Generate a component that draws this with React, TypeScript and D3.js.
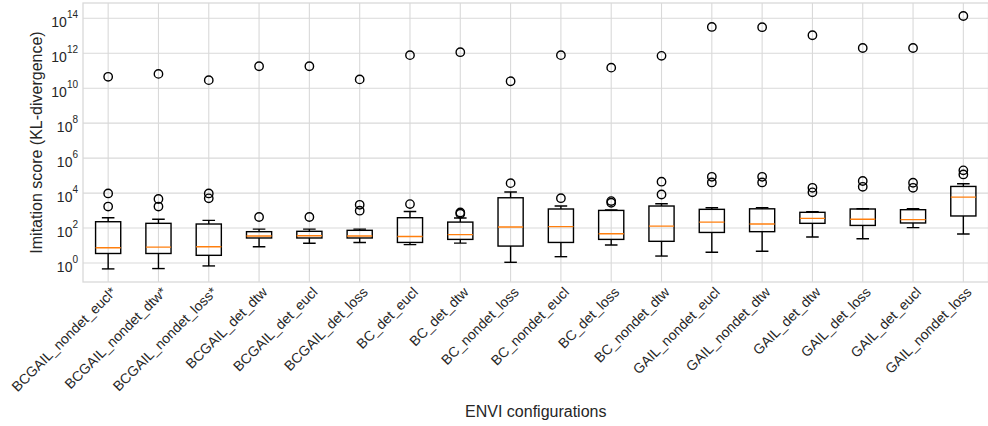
import React from 'react';
import * as d3 from 'd3';

const categories = [
  'BCGAIL_nondet_eucl*', 'BCGAIL_nondet_dtw*', 'BCGAIL_nondet_loss*',
  'BCGAIL_det_dtw', 'BCGAIL_det_eucl', 'BCGAIL_det_loss',
  'BC_det_eucl', 'BC_det_dtw', 'BC_nondet_loss', 'BC_nondet_eucl',
  'BC_det_loss', 'BC_nondet_dtw', 'GAIL_nondet_eucl', 'GAIL_nondet_dtw',
  'GAIL_det_dtw', 'GAIL_det_loss', 'GAIL_det_eucl', 'GAIL_nondet_loss',
];

const whiskerLow = [0.46, 0.48, 0.68, 8.5, 13.5, 15, 11.2, 13.8, 1.1, 2.3, 10.7, 2.5, 4.1, 4.7, 31, 24.5, 105, 46];
const q1 = [3.5, 3.5, 2.75, 27, 27, 27, 15, 22.4, 9.3, 15, 22.4, 17.4, 56, 62, 186, 141, 195, 490];
const medians = [7.4, 8.1, 8.5, 35, 36, 35, 33, 42, 115, 120, 47, 129, 219, 170, 355, 316, 302, 5900];
const q3 = [230, 186, 170, 62, 65, 74, 390, 219, 5400, 1230, 1020, 1820, 1175, 1260, 794, 1230, 1120, 24000];
const whiskerHigh = [390, 316, 275, 87, 87, 87, 890, 372, 11500, 1820, 1080, 2450, 1445, 1480, 850, 1260, 1260, 34000];
const outliers = [
  [1700, 9500, 4.5e10],
  [1700, 4600, 6.6e10],
  [5000, 9500, 2.9e10],
  [427, 1.8e11],
  [427, 1.8e11],
  [980, 2140, 3.2e10],
  [2340, 7.8e11],
  [660, 776, 1.15e12],
  [37000, 2.5e10],
  [5100, 7.8e11],
  [2800, 3470, 1.5e11],
  [8300, 44700, 7.1e11],
  [40700, 85000, 3.2e13],
  [40700, 85000, 3.1e13],
  [11000, 20000, 1.07e13],
  [22900, 49000, 2.0e12],
  [20000, 38900, 2.0e12],
  [117000, 200000, 1.35e14],
];
const yTickExps = [0, 2, 4, 6, 8, 10, 12, 14];

const W = 988;
const H = 426;
const left = 83;
const right = 988.5;
const top = 3;
const bottom = 282;
const textColor = '#262626';
const gridColor = '#d9d9d9';
const font = '"Liberation Sans", Arial, sans-serif';

export default function App() {
  const x = d3.scaleLinear().domain([0.5, categories.length + 0.5]).range([left, right]);
  const y = d3.scaleLog().domain([Math.pow(10, -1.087), Math.pow(10, 14.875)]).range([bottom, top]);
  const step = x(2) - x(1);
  const boxW = step * 0.5;
  const capW = boxW * 0.5;

  return (
    <svg width={W} height={H} style={{ position: 'absolute', left: 0, top: 0 }} fontFamily={font}>
      <rect width={W} height={H} fill="#fff" />
      <defs>
        <clipPath id="plot">
          <rect x={left} y={top} width={right - left} height={bottom - top} />
        </clipPath>
      </defs>
      {/* grid */}
      {yTickExps.map(e => (
        <line key={'gy' + e} x1={left} x2={right} y1={y(Math.pow(10, e))} y2={y(Math.pow(10, e))} stroke={gridColor} strokeWidth={1.1} />
      ))}
      {categories.map((c, i) => (
        <line key={'gx' + i} x1={x(i + 1)} x2={x(i + 1)} y1={top} y2={bottom} stroke={gridColor} strokeWidth={1.1} />
      ))}
      <rect x={left} y={top} width={right - left} height={bottom - top} fill="none" stroke={gridColor} strokeWidth={1.3} />

      {/* boxes */}
      <g clipPath="url(#plot)">
        {categories.map((c, i) => {
          const cx = x(i + 1);
          return (
            <g key={c} stroke="#000" strokeWidth={1.4} fill="none">
              <line x1={cx} x2={cx} y1={y(whiskerLow[i])} y2={y(q1[i])} />
              <line x1={cx} x2={cx} y1={y(q3[i])} y2={y(whiskerHigh[i])} />
              <line x1={cx - capW / 2} x2={cx + capW / 2} y1={y(whiskerLow[i])} y2={y(whiskerLow[i])} />
              <line x1={cx - capW / 2} x2={cx + capW / 2} y1={y(whiskerHigh[i])} y2={y(whiskerHigh[i])} />
              <rect x={cx - boxW / 2} y={y(q3[i])} width={boxW} height={y(q1[i]) - y(q3[i])} />
              <line x1={cx - boxW / 2} x2={cx + boxW / 2} y1={y(medians[i])} y2={y(medians[i])} stroke="#ff7f0e" />
              {outliers[i].map((v, j) => (
                <circle key={j} cx={cx} cy={y(v)} r={4.2} />
              ))}
            </g>
          );
        })}
      </g>

      {/* y ticks */}
      {yTickExps.map(e => (
        <text key={'ty' + e} x={78} y={y(Math.pow(10, e)) + 8.5} textAnchor="end" fill={textColor} fontSize={14}>
          <tspan>10</tspan>
          <tspan dy={-8.5} fontSize={10}>{e}</tspan>
        </text>
      ))}

      {/* x ticks */}
      {categories.map((c, i) => (
        <text key={'tx' + i} transform={`translate(${x(i + 1) + 9},${293}) rotate(-45)`} textAnchor="end" fill={textColor} fontSize={14}>
          {c}
        </text>
      ))}

      <text transform={`translate(42,${(top + bottom) / 2}) rotate(-90)`} textAnchor="middle" fill={textColor} fontSize={16}>
        Imitation score (KL-divergence)
      </text>
      <text x={(left + right) / 2} y={417} textAnchor="middle" fill={textColor} fontSize={16}>
        ENVI configurations
      </text>
    </svg>
  );
}
